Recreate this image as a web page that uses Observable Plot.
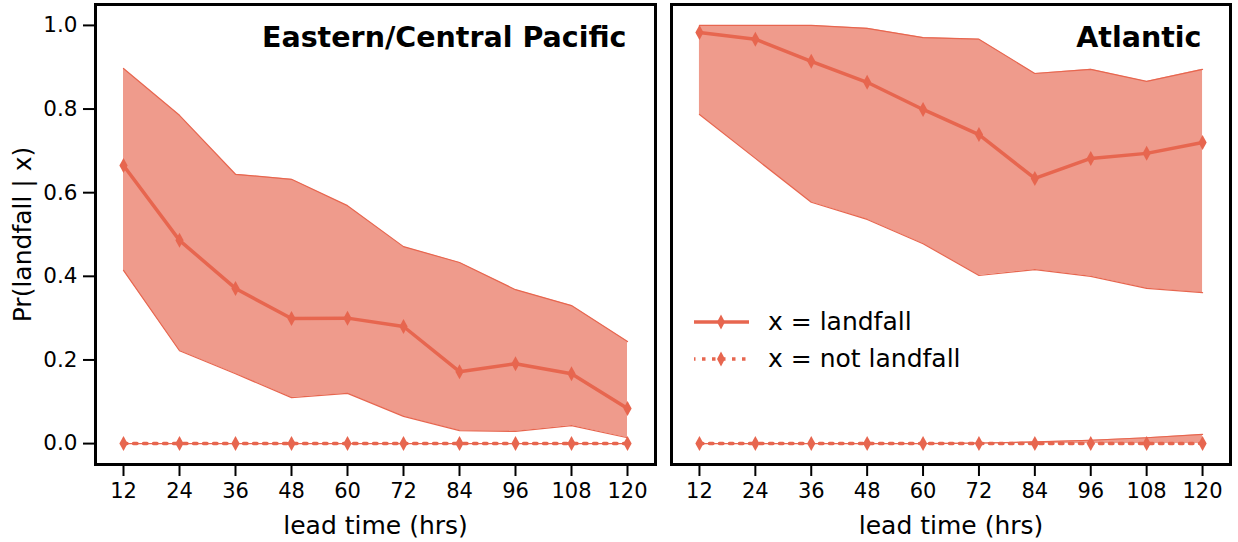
<!DOCTYPE html>
<html>
<head>
<meta charset="utf-8">
<script src="https://cdn.jsdelivr.net/npm/d3@7"></script>
<script src="https://cdn.jsdelivr.net/npm/@observablehq/plot@0.6"></script>
<style>
  html, body { margin: 0; padding: 0; background: white; }
  #wrap { position: relative; width: 1238px; height: 542px; display: flex; }
  #legend { position: absolute; left: 671px; top: 300px; font-family: "DejaVu Sans"; }
</style>
</head>
<body>
<div id="wrap"></div>
<script>
const leadTimes = [12, 24, 36, 48, 60, 72, 84, 96, 108, 120];

// Eastern/Central Pacific
const pacMean = [0.665, 0.486, 0.371, 0.299, 0.300, 0.280, 0.172, 0.191, 0.167, 0.084];
const pacHigh = [0.897, 0.785, 0.644, 0.632, 0.569, 0.471, 0.433, 0.368, 0.330, 0.244];
const pacLow  = [0.414, 0.222, 0.167, 0.110, 0.120, 0.065, 0.031, 0.029, 0.043, 0.014];
const pacNotMean = [0, 0, 0, 0, 0, 0, 0, 0, 0, 0];
const pacNotHigh = [0, 0, 0, 0, 0, 0, 0, 0, 0, 0];
const pacNotLow  = [0, 0, 0, 0, 0, 0, 0, 0, 0, 0];

// Atlantic
const atlMean = [0.983, 0.967, 0.914, 0.864, 0.799, 0.739, 0.634, 0.682, 0.694, 0.720];
const atlHigh = [1.000, 1.000, 1.000, 0.993, 0.971, 0.967, 0.885, 0.895, 0.866, 0.895];
const atlLow  = [0.787, 0.682, 0.577, 0.536, 0.478, 0.402, 0.416, 0.400, 0.371, 0.361];
const atlNotMean = [0, 0, 0, 0, 0, 0, 0, 0, 0, 0];
const atlNotHigh = [0, 0, 0, 0, 0, 0.001, 0.004, 0.008, 0.014, 0.022];
const atlNotLow  = [0, 0, 0, 0, 0, 0, 0, 0, 0, 0];

const yTicks = [0, 0.2, 0.4, 0.6, 0.8, 1.0];
const titles = ["Eastern/Central Pacific", "Atlantic"];
const xLabel = "lead time (hrs)";
const yLabel = "Pr(landfall | x)";
const legendLabels = ["x = landfall", "x = not landfall"];

const C = "#e7664f";
const DOTS = "3.5,6.5";

const thinDiamond = {
  draw(ctx, size) {
    const r = Math.sqrt(size / Math.PI);
    const w = r * 0.55;
    ctx.moveTo(0, -r);
    ctx.lineTo(w, 0);
    ctx.lineTo(0, r);
    ctx.lineTo(-w, 0);
    ctx.closePath();
  }
};

function panel(mean, low, high, nMean, nLow, nHigh, title, left) {
  const rows = leadTimes.map((t, i) => ({
    t, mean: mean[i], low: low[i], high: high[i],
    nMean: nMean[i], nLow: nLow[i], nHigh: nHigh[i]
  }));
  return Plot.plot({
    width: left ? 663 : 575,
    height: 542,
    marginLeft: left ? 95 : 8,
    marginRight: 8,
    marginTop: 4,
    marginBottom: 78,
    x: {domain: [6, 126]},
    y: {domain: [-0.05, 1.05], axis: left ? undefined : null},
    style: {fontFamily: "DejaVu Sans", fontSize: "21px", color: "#000", background: "white", overflow: "visible"},
    marks: [
      Plot.areaY(rows, {x: "t", y1: "low", y2: "high", fill: C, fillOpacity: 0.65}),
      Plot.lineY(rows, {x: "t", y: "high", stroke: C, strokeWidth: 1.2}),
      Plot.lineY(rows, {x: "t", y: "low", stroke: C, strokeWidth: 1.2}),
      Plot.areaY(rows, {x: "t", y1: "nLow", y2: "nHigh", fill: C, fillOpacity: 0.65}),
      Plot.lineY(rows, {x: "t", y: "nHigh", stroke: C, strokeWidth: 1.2}),
      Plot.lineY(rows, {x: "t", y: "mean", stroke: C, strokeWidth: 3.5}),
      Plot.dot(rows, {x: "t", y: "mean", symbol: thinDiamond, r: 7.5, fill: C, stroke: "none"}),
      Plot.lineY(rows, {x: "t", y: "nMean", stroke: C, strokeWidth: 3.5, strokeDasharray: DOTS}),
      Plot.dot(rows, {x: "t", y: "nMean", symbol: thinDiamond, r: 7.5, fill: C, stroke: "none"}),
      Plot.frame({stroke: "black", strokeWidth: 3}),
      Plot.axisX({ticks: leadTimes, tickSize: 12, tickPadding: 7, strokeWidth: 2,
        fontSize: 21, label: null}),
      Plot.text([xLabel], {frameAnchor: "bottom", dy: 61, textAnchor: "middle", lineAnchor: "middle",
        fontSize: 25, text: d => d, fill: "black"}),
      left
        ? Plot.axisY({ticks: yTicks, tickFormat: d3.format(".1f"), tickSize: 12, tickPadding: 6, strokeWidth: 2,
            fontSize: 21.5, label: null})
        : null,
      left
        ? Plot.text([yLabel], {frameAnchor: "left", dx: -73, rotate: -90, textAnchor: "middle", lineAnchor: "middle",
            fontSize: 25, text: d => d, fill: "black"})
        : null,
      Plot.text([title], {frameAnchor: "top-right", dx: -29, dy: 33, textAnchor: "end", lineAnchor: "middle",
        fontWeight: "bold", fontSize: 28.5, text: d => d, fill: "black"})
    ]
  });
}

const wrap = document.getElementById("wrap");
wrap.appendChild(panel(pacMean, pacLow, pacHigh, pacNotMean, pacNotLow, pacNotHigh, titles[0], true));
wrap.appendChild(panel(atlMean, atlLow, atlHigh, atlNotMean, atlNotLow, atlNotHigh, titles[1], false));

// legend
const lg = document.createElement("div");
lg.id = "legend";
const ns = "http://www.w3.org/2000/svg";
const svg = document.createElementNS(ns, "svg");
svg.setAttribute("width", 330);
svg.setAttribute("height", 90);
legendLabels.forEach((lab, i) => {
  const y = 22 + i * 37;
  const line = document.createElementNS(ns, "line");
  line.setAttribute("x1", 23); line.setAttribute("x2", 78);
  line.setAttribute("y1", y); line.setAttribute("y2", y);
  line.setAttribute("stroke", C); line.setAttribute("stroke-width", 3.5);
  if (i === 1) { line.setAttribute("stroke-dasharray", DOTS); line.setAttribute("stroke-dashoffset", 2); }
  svg.appendChild(line);
  const dm = document.createElementNS(ns, "path");
  dm.setAttribute("d", `M${50},${y - 7.5}L${54},${y}L${50},${y + 7.5}L${46},${y}Z`);
  dm.setAttribute("fill", C);
  svg.appendChild(dm);
  const tx = document.createElementNS(ns, "text");
  tx.setAttribute("x", 97); tx.setAttribute("y", y);
  tx.setAttribute("dy", "0.3em");
  tx.setAttribute("font-size", 25);
  tx.textContent = lab;
  svg.appendChild(tx);
});
lg.appendChild(svg);
wrap.appendChild(lg);
</script>
</body>
</html>
